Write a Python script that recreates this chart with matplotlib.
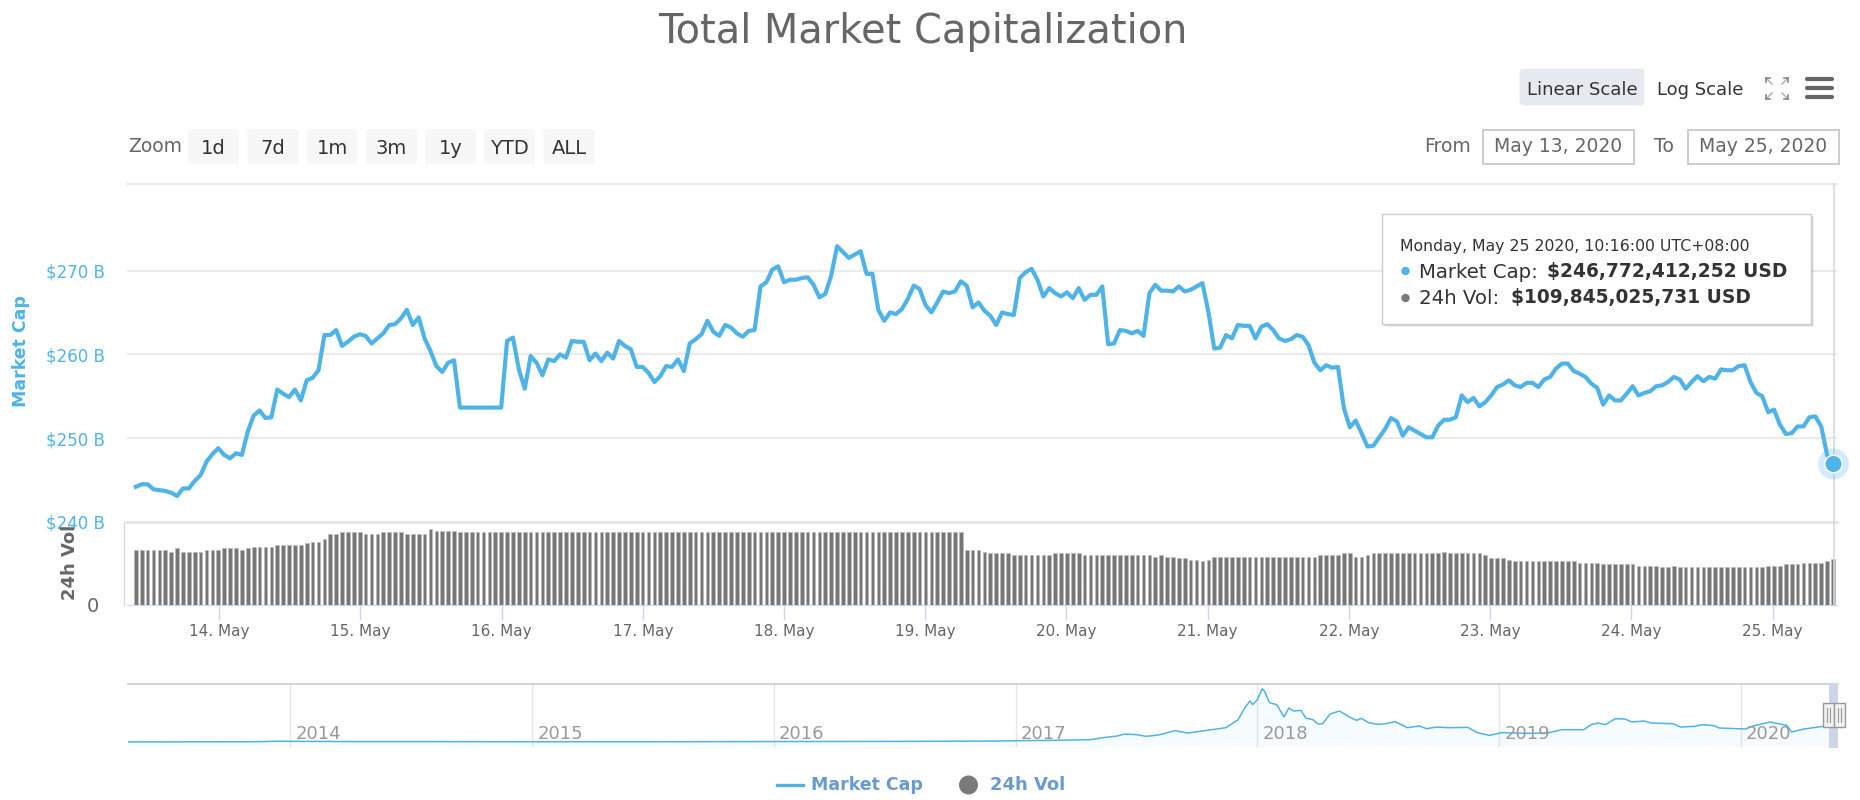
import matplotlib
matplotlib.use('Agg')
import matplotlib.pyplot as plt
import matplotlib.dates as mdates
from matplotlib.patches import Rectangle, FancyBboxPatch, Circle
import numpy as np
import pandas as pd

W, H = 1860, 800
plt.rcParams['font.family'] = ['DejaVu Sans']
plt.rcParams['text.parse_math'] = False

BLUE = '#4fb3e8'
GREY = '#666666'
GRID = '#e6e6e6'
AXIS = '#ccd6eb'

######
# DATA
######
# hourly market cap, billions of USD
market_cap = [
    244.2, 244.5, 244.5, 243.9, 243.8, 243.7, 243.5, 243.1, 244.0, 244.0,
    244.9, 245.6, 247.2, 248.1, 248.8, 248.0, 247.6, 248.2, 248.0, 250.8,
    252.7, 253.3, 252.4, 252.5, 255.8, 255.3, 254.9, 255.8, 254.5, 256.9,
    257.2, 258.1, 262.3, 262.3, 262.9, 261.0, 261.5, 262.1, 262.4, 262.2,
    261.3, 261.9, 262.5, 263.5, 263.6, 264.3, 265.3, 263.5, 264.4, 261.9,
    260.4, 258.6, 257.9, 259.0, 259.3, 253.65, 253.65, 253.65, 253.65, 253.65,
    253.65, 253.65, 253.65, 261.6, 262.0, 258.2, 255.9, 259.8, 259.0, 257.5,
    259.4, 259.2, 260.0, 259.6, 261.6, 261.5, 261.5, 259.3, 260.1, 259.2,
    260.2, 259.5, 261.6, 261.0, 260.6, 258.5, 258.5, 257.8, 256.7, 257.4,
    258.6, 258.5, 259.4, 258.0, 261.3, 261.8, 262.4, 264.0, 262.7, 262.2,
    263.5, 263.2, 262.5, 262.1, 262.8, 262.9, 268.1, 268.6, 270.1, 270.5,
    268.6, 268.9, 268.9, 269.1, 269.2, 268.3, 266.8, 267.2, 269.4, 272.9,
    272.2, 271.5, 271.9, 272.3, 269.6, 269.6, 265.3, 264.0, 265.0, 264.8,
    265.4, 266.6, 268.2, 267.8, 265.9, 265.0, 266.2, 267.5, 267.3, 267.5,
    268.7, 268.2, 265.6, 266.2, 265.2, 264.6, 263.5, 265.0, 264.8, 264.7,
    269.1, 269.8, 270.2, 268.9, 266.9, 267.9, 267.3, 266.9, 267.4, 266.7,
    267.9, 266.5, 267.1, 267.1, 268.1, 261.2, 261.3, 262.9, 262.8, 262.5,
    262.8, 262.2, 267.3, 268.3, 267.6, 267.6, 267.5, 268.1, 267.5, 267.7,
    268.1, 268.5, 265.1, 260.7, 260.8, 262.3, 261.9, 263.5, 263.4, 263.4,
    261.9, 263.3, 263.6, 262.9, 261.9, 261.6, 261.8, 262.3, 262.1, 261.1,
    259.0, 258.1, 258.7, 258.4, 258.5, 253.6, 251.3, 252.1, 250.6, 249.0,
    249.1, 250.1, 251.1, 252.4, 252.0, 250.3, 251.3, 250.9, 250.5, 250.1,
    250.1, 251.5, 252.2, 252.2, 252.5, 255.1, 254.3, 254.8, 253.8, 254.3,
    255.1, 256.1, 256.4, 256.9, 256.3, 256.1, 256.6, 256.6, 256.1, 257.0,
    257.3, 258.3, 258.9, 258.9, 258.0, 257.7, 257.3, 256.5, 256.0, 254.0,
    255.1, 254.5, 254.5, 255.3, 256.2, 255.1, 255.4, 255.6, 256.2, 256.3,
    256.7, 257.3, 257.0, 255.9, 256.7, 257.4, 256.8, 257.3, 257.1, 258.2,
    258.1, 258.1, 258.6, 258.7, 256.7, 255.4, 255.0, 253.1, 253.4, 251.6,
    250.5, 250.6, 251.4, 251.4, 252.5, 252.6, 251.4, 248.0, 246.77,
]

# hourly 24h volume, billions of USD
volume = [
    132, 132, 132, 132, 132, 132, 128, 136, 128, 128,
    128, 128, 132, 132, 132, 136, 136, 136, 132, 136,
    140, 140, 140, 140, 144, 144, 144, 144, 144, 148,
    151, 151, 158, 170, 170, 174, 174, 174, 174, 170,
    170, 170, 174, 174, 174, 174, 170, 170, 170, 170,
    182, 178, 178, 178, 178, 174, 174, 174, 174, 174,
    174, 174, 174, 174, 174, 174, 174, 174, 174, 174,
    174, 174, 174, 174, 174, 174, 174, 174, 174, 174,
    174, 174, 174, 174, 174, 174, 174, 174, 174, 174,
    174, 174, 174, 174, 174, 174, 174, 174, 174, 174,
    174, 174, 174, 174, 174, 174, 174, 174, 174, 174,
    174, 174, 174, 174, 174, 174, 174, 174, 174, 174,
    174, 174, 174, 174, 174, 174, 174, 174, 174, 174,
    174, 174, 174, 174, 174, 174, 174, 174, 174, 174,
    174, 132, 132, 132, 128, 124, 124, 124, 124, 120,
    120, 120, 120, 120, 120, 120, 124, 124, 124, 124,
    124, 120, 120, 120, 120, 120, 120, 120, 120, 120,
    120, 120, 120, 116, 120, 116, 116, 112, 113, 109,
    109, 105, 109, 116, 116, 116, 116, 116, 116, 116,
    116, 116, 116, 116, 116, 116, 116, 116, 116, 116,
    116, 120, 120, 120, 120, 124, 124, 116, 116, 120,
    124, 124, 124, 124, 124, 124, 124, 124, 124, 124,
    124, 124, 128, 124, 124, 124, 124, 124, 124, 120,
    113, 113, 113, 109, 105, 105, 105, 105, 105, 105,
    105, 105, 105, 105, 105, 101, 101, 101, 101, 98,
    98, 98, 98, 98, 98, 94, 94, 94, 94, 90,
    90, 94, 90, 90, 90, 90, 90, 90, 90, 90,
    90, 90, 90, 90, 90, 90, 90, 94, 94, 94,
    98, 98, 98, 101, 101, 101, 101, 105, 109.85,
]

first_time = '2020-05-13 09:50'
last_time = '2020-05-25 10:16'

cap_ticks = [240, 250, 260, 270]
cap_labels = ['$240 B', '$250 B', '$260 B', '$270 B']

# navigator: whole history, decimal year / billions
nav_years = [
    2013.33, 2013.85, 2013.95, 2014.05, 2014.30, 2014.60, 2015.00, 2015.50, 2016.00, 2016.50,
    2016.93, 2017.00, 2017.16, 2017.31, 2017.36, 2017.42, 2017.45, 2017.50, 2017.54, 2017.59,
    2017.66, 2017.71, 2017.79, 2017.87, 2017.92, 2017.95, 2017.97, 2017.98, 2018.00, 2018.02,
    2018.03, 2018.05, 2018.08, 2018.11, 2018.13, 2018.15, 2018.18, 2018.20, 2018.23, 2018.25,
    2018.27, 2018.30, 2018.34, 2018.38, 2018.41, 2018.43, 2018.46, 2018.50, 2018.53, 2018.57,
    2018.62, 2018.67, 2018.70, 2018.74, 2018.79, 2018.87, 2018.91, 2018.96, 2019.01, 2019.11,
    2019.20, 2019.26, 2019.35, 2019.38, 2019.41, 2019.44, 2019.48, 2019.52, 2019.55, 2019.60,
    2019.63, 2019.72, 2019.75, 2019.81, 2019.84, 2019.89, 2019.91, 2020.02, 2020.05, 2020.12,
    2020.17, 2020.19, 2020.21, 2020.26, 2020.34, 2020.397,
]
nav_cap = [
    2, 4, 12, 10, 6, 6, 4, 4, 7, 9,
    15, 20, 26, 36, 67, 93, 124, 114, 88, 109,
    176, 140, 181, 223, 347, 545, 638, 581, 659, 830,
    788, 612, 581, 389, 529, 482, 493, 373, 347, 280,
    285, 436, 482, 389, 337, 368, 301, 275, 285, 316,
    223, 249, 207, 233, 223, 228, 145, 103, 145, 135,
    140, 192, 192, 270, 295, 270, 363, 358, 311, 327,
    295, 285, 233, 244, 270, 254, 218, 202, 249, 311,
    275, 259, 155, 202, 244, 247,
]
nav_year_ticks = [2014, 2015, 2016, 2017, 2018, 2019, 2020]

zoom_buttons = ['1d', '7d', '1m', '3m', '1y', 'YTD', 'ALL']


def axes_px(left, top, right, bottom):
    return fig.add_axes([left / W, 1 - bottom / H, (right - left) / W, (bottom - top) / H])


fig = plt.figure(figsize=(W / 100, H / 100), dpi=100)

times = pd.date_range(first_time, last_time, periods=len(market_cap))
t_num = mdates.date2num(times)
hour = t_num[1] - t_num[0]
x_left = t_num[0] - 8.8 * hour / 5.884
x_right = t_num[-1] + 4.0 * hour / 5.884

############
# MAIN PANE
############
ax = axes_px(127, 184, 1837, 522)
ax.plot(t_num, market_cap, color=BLUE, lw=3.0, solid_joinstyle='round', zorder=3)
ax.set_xlim(x_left, x_right)
ax.set_ylim(240.07, 280.32)
ax.set_yticks(cap_ticks)
ax.set_yticklabels(cap_labels)
ax.tick_params(axis='y', length=0, pad=16, labelcolor=BLUE, labelsize=12)
ax.tick_params(axis='x', length=0, labelbottom=False)
ax.grid(axis='y', color=GRID, lw=1.2)
ax.set_axisbelow(True)
for s in ['left', 'right', 'bottom']:
    ax.spines[s].set_visible(False)
ax.spines['top'].set_color(GRID)
ax.spines['top'].set_linewidth(1.2)
ax.set_ylabel('Market Cap', color=BLUE, fontsize=12.5, fontweight='bold')
ax.yaxis.set_label_coords((30 - 127) / 1710, (522 - 351) / 338)

##############
# VOLUME PANE
##############
vx = axes_px(127, 522, 1837, 605)
vx.patch.set_alpha(0)
vx.bar(t_num, volume, width=hour * 0.62, color='#767676', edgecolor='#bbbbbb', lw=0.4)
vx.set_xlim(x_left, x_right)
vx.set_ylim(0, 199)
vx.set_yticks([0])
vx.set_yticklabels(['0'])
vx.tick_params(axis='y', length=0, pad=18, labelcolor=GREY, labelsize=14)
vx.xaxis.set_major_locator(mdates.DayLocator())
vx.xaxis.set_major_formatter(mdates.DateFormatter('%-d. %b'))
vx.tick_params(axis='x', length=11, width=1, color=AXIS, labelcolor=GREY, labelsize=11, pad=3)
vx.spines['right'].set_visible(False)
vx.spines['top'].set_color(GRID)
vx.spines['top'].set_linewidth(2.2)
vx.spines['bottom'].set_color(AXIS)
vx.spines['left'].set_color(AXIS)
vx.spines['left'].set_position(('outward', 2))
vx.set_ylabel('24h Vol', color=GREY, fontsize=13, fontweight='bold')
vx.yaxis.set_label_coords((79 - 127) / 1710, (605 - 562) / 83)

#################
# NAVIGATOR
#################
nx = axes_px(127.5, 684, 1837.6, 747)
nx.plot(nav_years, nav_cap, color=BLUE, lw=1.1)
nx.fill_between(nav_years, nav_cap, -78, color=BLUE, alpha=0.05, lw=0)
nx.set_xlim(2013.326, 2020.40)
nx.set_ylim(-78, 903)
nx.set_xticks(nav_year_ticks)
nx.set_xticklabels([])
nx.set_yticks([])
nx.tick_params(axis='x', length=0)
nx.grid(axis='x', color=GRID, lw=1)
nx.set_axisbelow(True)
for s in ['left', 'right', 'bottom']:
    nx.spines[s].set_visible(False)
nx.spines['top'].set_color('#cccccc')
nx.spines['top'].set_linewidth(1.2)
for yr in nav_year_ticks:
    nx.annotate(str(yr), (yr, 0), xycoords=('data', 'axes fraction'), xytext=(5, 4),
                textcoords='offset pixels', color='#999999', fontsize=13, va='bottom', ha='left')

##################
# OVERLAY (px coords)
##################
ui = fig.add_axes([0, 0, 1, 1])
ui.set_xlim(0, W)
ui.set_ylim(H, 0)
ui.axis('off')
ui.patch.set_alpha(0)

ui.text(923, 32, 'Total Market Capitalization', color=GREY, fontsize=28.7, ha='center', va='center')

# crosshair and the hovered point
cross_x = 1833.5
ui.plot([cross_x, cross_x], [184, 605], color='#d5dadd', lw=1.2, zorder=1)
ui.add_patch(Circle((cross_x, 464), 15.5, color=BLUE, alpha=0.25, lw=0, zorder=4))
ui.add_patch(Circle((cross_x, 464), 9.5, color='white', lw=0, zorder=5))
ui.add_patch(Circle((cross_x, 464), 8, color=BLUE, lw=0, zorder=6))

# tooltip
for off, a in [(3, 0.10), (2, 0.18), (1, 0.25)]:
    ui.add_patch(Rectangle((1382 + off, 214 + off), 429, 110, color='#666666', alpha=a, lw=0, zorder=6))
ui.add_patch(Rectangle((1382, 214), 429, 110, facecolor='white', edgecolor='#cccccc', lw=1, zorder=7))
ui.text(1400, 247, 'Monday, May 25 2020, 10:16:00 UTC+08:00', color='#333333', fontsize=11.3,
        va='center', zorder=8)
ui.add_patch(Circle((1405.5, 271), 4.2, color=BLUE, lw=0, zorder=8))
ui.add_patch(Circle((1405.5, 298), 4.2, color='#7a7a7a', lw=0, zorder=8))
ui.text(1419, 272, 'Market Cap: ', color='#333333', fontsize=14.2, va='center', zorder=8)
ui.text(1547, 272, '$246,772,412,252 USD', color='#333333', fontsize=13.4, fontweight='bold',
        va='center', zorder=8)
ui.text(1419, 298, '24h Vol: ', color='#333333', fontsize=14.2, va='center', zorder=8)
ui.text(1511, 298, '$109,845,025,731 USD', color='#333333', fontsize=13.4, fontweight='bold',
        va='center', zorder=8)

# scale buttons + icons
ui.add_patch(FancyBboxPatch((1521, 70), 122, 34, boxstyle='round,pad=0,rounding_size=2',
                            facecolor='#e6e9ef', edgecolor='#e6e9ef', lw=2))
ui.text(1582, 90, 'Linear Scale', color='#333333', fontsize=13, ha='center', va='center')
ui.text(1700, 90, 'Log Scale', color='#333333', fontsize=13, ha='center', va='center')
for x0, y0, dx, dy in [(1766, 78, 1, 1), (1788, 78, -1, 1), (1766, 99, 1, -1), (1788, 99, -1, -1)]:
    ui.plot([x0, x0 + 6 * dx], [y0, y0 + 6 * dy], color='#aaaaaa', lw=1.0)
    ui.plot([x0, x0 + 4 * dx], [y0, y0], color='#888888', lw=1.2)
    ui.plot([x0, x0], [y0, y0 + 4 * dy], color='#888888', lw=1.2)
for y0 in [78.5, 87.5, 96.5]:
    ui.plot([1807, 1832], [y0, y0], color=GREY, lw=3.0, solid_capstyle='round')

# date range inputs
ui.text(1447, 146, 'From', color=GREY, fontsize=13.5, ha='center', va='center')
ui.text(1664, 146, 'To', color=GREY, fontsize=13.5, ha='center', va='center')
ui.add_patch(Rectangle((1483, 130), 151, 34, facecolor='white', edgecolor='#cccccc', lw=1.4))
ui.add_patch(Rectangle((1688, 130), 151, 34, facecolor='white', edgecolor='#cccccc', lw=1.4))
ui.text(1558.5, 146, 'May 13, 2020', color=GREY, fontsize=13.5, ha='center', va='center')
ui.text(1763.5, 146, 'May 25, 2020', color=GREY, fontsize=13.5, ha='center', va='center')

# zoom buttons
ui.text(128, 147, 'Zoom', color=GREY, fontsize=13.5, va='center')
btn_left = [188, 247.5, 306.5, 366, 425, 484, 543.5]
for lbl, bx in zip(zoom_buttons, btn_left):
    ui.add_patch(FancyBboxPatch((bx + 1, 130), 49, 33, boxstyle='round,pad=0,rounding_size=2',
                                facecolor='#f7f7f7', edgecolor='#f7f7f7', lw=1.5))
    ui.text(bx + 25.5, 148, lbl, color='#333333', fontsize=14, ha='center', va='center')

# navigator selection and handles
ui.add_patch(Rectangle((1829.4, 684), 8.2, 64, facecolor='#cdd6e8', lw=0))
for hx in [1823, 1834]:
    ui.add_patch(Rectangle((hx, 703), 11, 24, facecolor='#f2f2f2', edgecolor='#999999', lw=1))
    ui.plot([hx + 4, hx + 4], [708, 722], color='#999999', lw=0.8)
    ui.plot([hx + 7, hx + 7], [708, 722], color='#999999', lw=0.8)

# legend
ui.plot([777, 803], [785, 785], color=BLUE, lw=2.4)
ui.text(811, 785, 'Market Cap', color='#6a9bd0', fontsize=12.5, fontweight='bold', va='center')
ui.add_patch(Circle((968.5, 785), 9.5, color='#7a7a7a', lw=0))
ui.text(990, 785, '24h Vol', color='#6a9bd0', fontsize=13, fontweight='bold', va='center')

fig.savefig('out.png', dpi=100)
